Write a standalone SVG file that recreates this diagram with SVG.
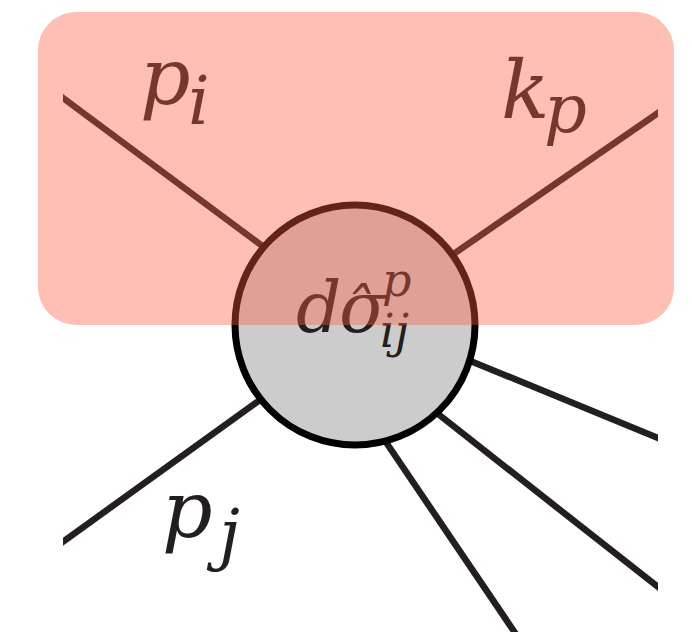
<svg xmlns="http://www.w3.org/2000/svg" width="692" height="632" viewBox="0 0 692 632">
  <style>
    .leg { stroke: #231f20; stroke-width: 6.5; fill: none; }
    .lbl { font-family: 'DejaVu Serif', serif; font-style: italic; fill: #231f20; }
  </style>
  <defs>
    <clipPath id="clipX">
      <rect x="63" y="0" width="595" height="632"/>
    </clipPath>
  </defs>
  <rect x="0" y="0" width="692" height="632" fill="#ffffff"/>
  <g id="connectors" clip-path="url(#clipX)">
    <line class="leg" x1="40" y1="81" x2="290" y2="266.5"/>
    <line class="leg" x1="680" y1="97.8" x2="425" y2="273.7"/>
    <line class="leg" x1="40" y1="558.3" x2="285" y2="381.8"/>
    <line class="leg" x1="680" y1="447" x2="440" y2="348.4"/>
    <line class="leg" x1="680" y1="604.3" x2="420" y2="399.7"/>
    <line class="leg" x1="533.4" y1="660" x2="371" y2="420"/>
  </g>
  <g id="node-blob">
    <circle cx="355" cy="325" r="120" fill="#cccccc" stroke="#000000" stroke-width="7"/>
    <text class="lbl" x="296" y="332" font-size="71">d</text>
    <text class="lbl" x="339" y="332" font-size="71">σ</text>
    <text class="lbl" x="342" y="331" font-size="60" font-style="normal">ˆ</text>
    <text class="lbl" x="382" y="296" font-size="46">p</text>
    <text class="lbl" x="380" y="347" font-size="46">ij</text>
  </g>
  <g id="label-pi">
    <text class="lbl" x="140" y="104" font-size="79">p</text>
    <text class="lbl" x="188" y="124" font-size="68">i</text>
  </g>
  <g id="label-kp">
    <text class="lbl" x="501" y="118" font-size="80">k</text>
    <text class="lbl" x="544" y="132" font-size="67">p</text>
  </g>
  <g id="label-pj">
    <text class="lbl" x="162" y="537" font-size="79">p</text>
    <text class="lbl" x="219" y="557" font-size="67">j</text>
  </g>
  <g id="region-overlay">
    <rect x="38" y="12" width="636" height="313" rx="38" ry="38" fill="rgb(255,91,65)" fill-opacity="0.39"/>
  </g>
</svg>
